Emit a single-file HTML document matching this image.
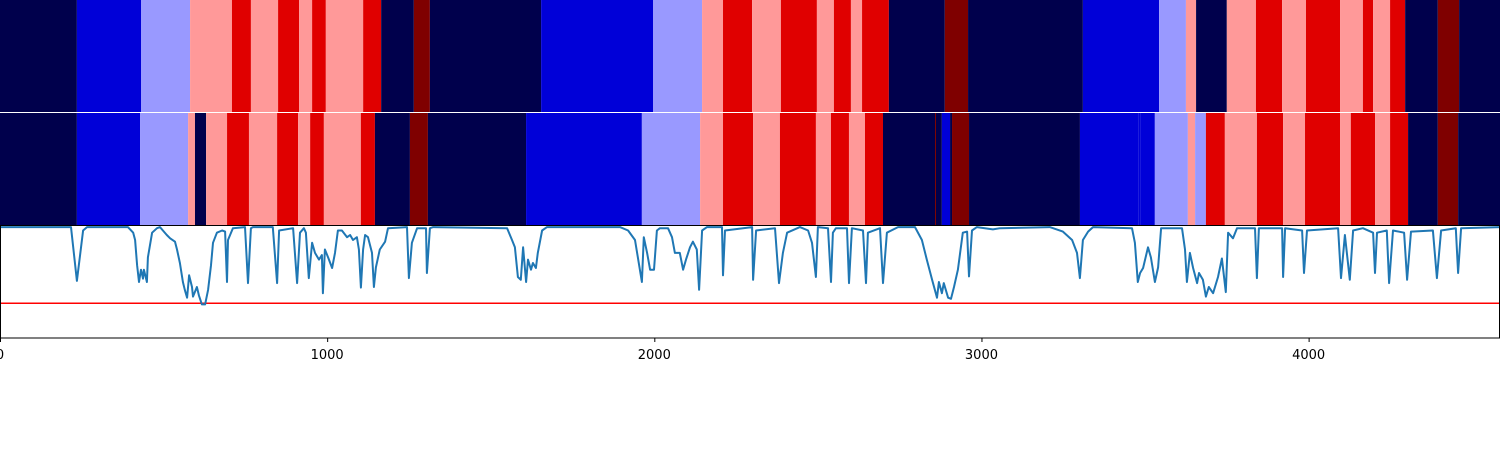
<!DOCTYPE html>
<html><head><meta charset="utf-8"><style>
html,body{margin:0;padding:0;background:#fff;width:1500px;height:450px;overflow:hidden}
svg{display:block}
text{font-family:"DejaVu Sans","Liberation Sans",sans-serif;font-size:13px;fill:#000}
</style></head><body>
<svg id="chart" width="1500" height="450"></svg>
<script>
const colors=["#00004c","#0000d8","#9999ff","#ff9999","#e00000","#7f0000"];
const strip1Ends=[235,431,581,709,767,850,914,954,996,1110,1165,1265,1314,1654,1996,2146,2210,2299,2387,2497,2549,2601,2635,2717,2888,2959,3310,3543,3625,3656,3750,3839,3919,3992,4096,4166,4197,4249,4295,4395,4460,4585];
const strip1Codes=[0,1,2,3,4,3,4,3,4,3,4,0,5,0,1,2,3,4,3,4,3,4,3,4,0,5,0,1,2,3,0,3,4,3,4,3,4,3,4,0,5,0];
const strip2Ends=[235,428,575,596,630,694,761,847,911,948,990,1103,1146,1253,1308,1608,1962,2140,2210,2302,2384,2494,2540,2595,2644,2699,2858,2861,2879,2904,2910,2962,3301,3481,3485,3530,3631,3653,3686,3744,3842,3922,3989,4096,4129,4203,4249,4304,4395,4457,4585];
const strip2Codes=[0,1,2,3,0,3,4,3,4,3,4,3,4,0,5,0,1,2,3,4,3,4,3,4,3,4,0,5,0,1,0,5,0,1,1,1,2,3,2,4,3,4,3,4,3,4,3,4,0,5,0];
const lineX=[0,217,235,254,266,391,407,413,419,425,431,437,440,449,452,465,480,489,498,510,520,535,541,550,559,565,572,578,587,590,602,608,617,627,636,645,651,663,679,688,694,697,712,749,758,767,773,834,847,853,896,908,917,929,935,944,954,963,975,984,987,993,1003,1015,1024,1033,1045,1061,1070,1079,1091,1097,1103,1110,1116,1125,1137,1143,1149,1161,1177,1186,1244,1250,1259,1275,1302,1305,1314,1324,1550,1565,1574,1583,1592,1599,1608,1614,1623,1629,1638,1644,1657,1672,1895,1920,1941,1962,1968,1978,1987,1999,2008,2017,2042,2054,2063,2078,2088,2097,2109,2118,2130,2137,2146,2161,2207,2210,2216,2299,2302,2311,2369,2381,2393,2406,2445,2470,2482,2494,2500,2531,2540,2546,2555,2589,2595,2604,2638,2647,2653,2690,2699,2711,2745,2797,2818,2833,2849,2864,2870,2879,2885,2898,2907,2916,2928,2943,2956,2962,2971,2986,3035,3057,3209,3249,3277,3292,3301,3310,3326,3341,3460,3469,3478,3485,3494,3509,3518,3530,3540,3549,3613,3622,3628,3637,3647,3659,3665,3677,3686,3695,3708,3723,3735,3747,3754,3769,3781,3836,3842,3848,3919,3922,3928,3980,3986,3995,4090,4099,4111,4126,4136,4166,4197,4203,4209,4239,4246,4258,4292,4301,4313,4380,4392,4405,4450,4457,4466,4585];
const lineV=[.99,.99,.51,.96,.99,.99,.94,.875,.65,.50,.61,.53,.61,.50,.72,.94,.98,.99,.96,.92,.89,.86,.79,.67,.50,.43,.36,.56,.455,.37,.455,.38,.30,.30,.43,.65,.85,.94,.96,.95,.50,.875,.98,.99,.49,.98,.99,.99,.49,.96,.98,.49,.94,.98,.94,.535,.85,.76,.70,.74,.40,.79,.72,.625,.76,.96,.96,.90,.92,.875,.90,.79,.45,.79,.92,.90,.76,.455,.63,.79,.86,.98,.99,.535,.85,.98,.98,.58,.98,.99,.98,.875,.81,.545,.52,.81,.50,.70,.61,.67,.625,.76,.96,.99,.99,.96,.875,.50,.90,.76,.61,.61,.96,.98,.98,.90,.76,.76,.61,.70,.81,.86,.79,.43,.96,.99,.99,.56,.96,.99,.52,.96,.98,.49,.76,.94,.99,.96,.85,.545,.99,.98,.50,.94,.98,.98,.49,.98,.96,.49,.94,.98,.49,.94,.99,.99,.875,.70,.52,.36,.50,.40,.49,.36,.35,.455,.61,.94,.95,.55,.96,.99,.97,.98,.99,.95,.875,.76,.535,.875,.95,.99,.98,.85,.50,.58,.625,.81,.72,.50,.63,.98,.98,.79,.50,.76,.625,.49,.58,.52,.37,.455,.40,.545,.71,.41,.94,.89,.98,.98,.535,.98,.98,.545,.98,.96,.58,.96,.98,.535,.92,.52,.96,.98,.94,.58,.94,.96,.49,.96,.94,.52,.95,.96,.535,.96,.98,.58,.98,.99];
const threshold=0.31;
const xTicks=[0,1000,2000,3000,4000];
const xMax=4585;
const NS="http://www.w3.org/2000/svg";
const svg=document.getElementById('chart');
const X=v=>v/xMax*1500;
const Y=v=>226+(1-v)*112;
function mk(t,a){const e=document.createElementNS(NS,t);for(const k in a)e.setAttribute(k,a[k]);svg.appendChild(e);return e;}
function strip(ends,codes,y0,h,name){let s=0;for(let i=0;i<ends.length;i++){const r=mk('rect',{x:X(s),y:y0,width:Math.max(X(ends[i])-X(s),0.5),height:h,fill:colors[codes[i]]});


s=ends[i];}}
strip(strip1Ends,strip1Codes,0,112,'top-strip');
strip(strip2Ends,strip2Codes,113,112,'bottom-strip');
const bg=mk('rect',{x:0,y:226,width:1500,height:112,fill:'#fff'});


const th=mk('line',{x1:0,x2:1500,y1:Y(threshold),y2:Y(threshold),stroke:'#f00','stroke-width':1.5});


let d='';for(let i=0;i<lineX.length;i++)d+=(i?'L':'M')+X(lineX[i]).toFixed(1)+' '+Y(lineV[i]).toFixed(1);
const p=mk('path',{d:d,fill:'none',stroke:'#1f77b4','stroke-width':2,'stroke-linejoin':'round'});


const fr=mk('rect',{x:0.5,y:225.5,width:1499,height:112.5,fill:'none',stroke:'#000','stroke-width':1});


xTicks.forEach(t=>{const tk=mk('line',{x1:X(t)+0.5,x2:X(t)+0.5,y1:338,y2:342,stroke:'#000'});


const lb=mk('text',{x:X(t),y:359,'text-anchor':'middle'});lb.textContent=t;

});
</script>
</body></html>
